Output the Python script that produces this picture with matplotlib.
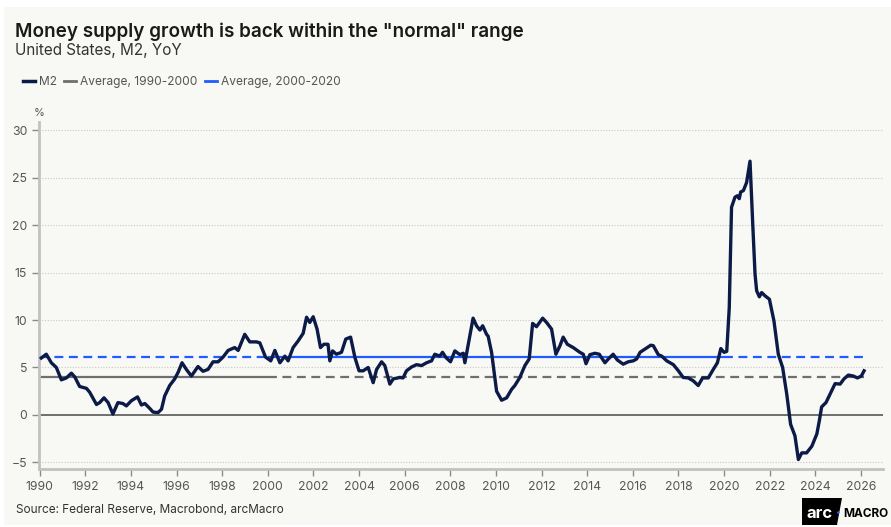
import matplotlib
matplotlib.use("Agg")
import matplotlib.pyplot as plt
from matplotlib.lines import Line2D
from matplotlib.patches import Polygon, Rectangle

plt.rcParams['font.family'] = ['Inter', 'DejaVu Sans']

# M2 YoY growth, % (decimal year, value)
anos = [1990.07, 1990.29, 1990.51, 1990.73, 1990.95, 1991.17, 1991.39, 1991.54, 1991.75, 1992.05,
        1992.19, 1992.49, 1992.63, 1992.82, 1993.0, 1993.21, 1993.43, 1993.65, 1993.8, 1994.02,
        1994.29, 1994.46, 1994.61, 1994.82, 1994.97, 1995.19, 1995.34, 1995.48, 1995.7, 1995.92,
        1996.07, 1996.24, 1996.43, 1996.65, 1996.94, 1997.16, 1997.38, 1997.6, 1997.82, 1998.04,
        1998.26, 1998.55, 1998.7, 1998.99, 1999.21, 1999.5, 1999.65, 1999.9, 2000.13, 2000.31,
        2000.53, 2000.75, 2000.89, 2001.11, 2001.33, 2001.55, 2001.7, 2001.84, 2001.99, 2002.16,
        2002.31, 2002.46, 2002.64, 2002.72, 2002.84, 2003.01, 2003.23, 2003.42, 2003.63, 2003.82,
        2004.0, 2004.18, 2004.4, 2004.62, 2004.77, 2004.99, 2005.13, 2005.35, 2005.5, 2005.79,
        2005.93, 2006.08, 2006.3, 2006.52, 2006.74, 2006.96, 2007.18, 2007.32, 2007.54, 2007.66,
        2007.81, 2008.01, 2008.2, 2008.42, 2008.57, 2008.64, 2008.79, 2009.0, 2009.15, 2009.3,
        2009.42, 2009.59, 2009.66, 2009.81, 2010.03, 2010.25, 2010.47, 2010.69, 2010.83, 2011.05,
        2011.27, 2011.46, 2011.61, 2011.78, 2012.05, 2012.22, 2012.44, 2012.63, 2012.81, 2012.95,
        2013.13, 2013.39, 2013.68, 2013.83, 2013.95, 2014.12, 2014.34, 2014.53, 2014.78, 2014.93,
        2015.14, 2015.32, 2015.58, 2015.8, 2016.02, 2016.17, 2016.32, 2016.54, 2016.79, 2016.9,
        2017.12, 2017.27, 2017.49, 2017.78, 2018.0, 2018.21, 2018.43, 2018.65, 2018.87, 2019.06,
        2019.31, 2019.53, 2019.71, 2019.86, 2020.0, 2020.12, 2020.23, 2020.33, 2020.48, 2020.58,
        2020.67, 2020.73, 2020.85, 2020.99, 2021.14, 2021.26, 2021.36, 2021.43, 2021.55, 2021.65,
        2021.8, 2021.99, 2022.19, 2022.38, 2022.57, 2022.75, 2022.92, 2023.11, 2023.26, 2023.41,
        2023.62, 2023.85, 2024.07, 2024.18, 2024.28, 2024.47, 2024.65, 2024.87, 2025.09, 2025.26,
        2025.45, 2025.67, 2025.85, 2026.02, 2026.14]
m2 = [6.0, 6.4, 5.5, 5.0, 3.7, 3.9, 4.4, 4.0, 3.0, 2.8,
      2.4, 1.1, 1.3, 1.8, 1.3, 0.1, 1.3, 1.2, 0.95, 1.5,
      1.9, 1.05, 1.2, 0.7, 0.3, 0.25, 0.6, 2.0, 3.1, 3.8,
      4.5, 5.5, 4.8, 4.1, 5.1, 4.6, 4.8, 5.6, 5.6, 6.1,
      6.8, 7.1, 6.8, 8.5, 7.7, 7.7, 7.6, 6.1, 5.7, 6.8,
      5.5, 6.2, 5.7, 7.1, 7.8, 8.6, 10.3, 9.75, 10.35, 9.05,
      7.1, 7.45, 7.45, 5.7, 6.75, 6.4, 6.6, 8.0, 8.2, 6.05,
      4.65, 4.65, 5.0, 3.4, 4.8, 5.6, 5.2, 3.25, 3.8, 3.95,
      3.9, 4.65, 5.05, 5.3, 5.2, 5.5, 5.7, 6.4, 6.2, 6.6,
      6.05, 5.6, 6.75, 6.35, 6.5, 5.5, 7.45, 10.2, 9.4, 8.95,
      9.4, 8.5, 8.3, 6.6, 2.5, 1.55, 1.8, 2.7, 3.1, 3.95,
      5.2, 5.9, 9.65, 9.3, 10.2, 9.75, 9.05, 6.4, 7.3, 8.2,
      7.45, 7.1, 6.6, 6.4, 5.4, 6.35, 6.5, 6.4, 5.5, 5.9,
      6.4, 5.8, 5.35, 5.6, 5.7, 5.9, 6.6, 6.95, 7.35, 7.3,
      6.35, 6.2, 5.7, 5.3, 4.65, 3.95, 3.9, 3.6, 3.1, 3.9,
      3.9, 4.8, 5.5, 7.0, 6.6, 6.7, 11.3, 21.9, 22.95, 23.1,
      22.8, 23.5, 23.65, 24.5, 26.75, 20.1, 14.85, 13.1, 12.45, 12.9,
      12.55, 12.2, 9.9, 6.4, 5.0, 2.2, -1.0, -2.2, -4.7, -4.0,
      -4.0, -3.3, -2.0, -0.6, 0.85, 1.3, 2.2, 3.3, 3.25, 3.8,
      4.2, 4.1, 3.9, 4.1, 4.65]

media_90s = 4.0    # average 1990-2000
media_00s = 6.1    # average 2000-2020
anos_ticks = list(range(1990, 2027, 2))
y_ticks = [-5, 0, 5, 10, 15, 20, 25, 30]

fundo = '#f8f8f4'
azul_escuro = '#0b1a46'
azul = '#1f5cff'
cinza = '#6f6f6f'

fig = plt.figure(figsize=(8.91, 5.27), dpi=100, facecolor='white')
fig.patches.append(Rectangle((4 / 891, 0.004), 1, 1 - 0.004 - 7 / 527, transform=fig.transFigure,
                             facecolor=fundo, edgecolor='none', zorder=-10))

ax = fig.add_axes([39 / 891, 1 - 469 / 527, (883 - 39) / 891, (469 - 122) / 527])
ax.set_facecolor(fundo)

# linhas de media
fim = anos[-1]
ax.plot([1990, 2000], [media_90s, media_90s], color=cinza, lw=1.6, solid_capstyle='butt')
ax.plot([2000, fim], [media_90s, media_90s], color=cinza, lw=1.6, dashes=(4, 2.5))
ax.plot([1990, 2000], [media_00s, media_00s], color=azul, lw=1.6, dashes=(4, 2.5))
ax.plot([2000, 2020], [media_00s, media_00s], color=azul, lw=1.6, solid_capstyle='butt')
ax.plot([2020, fim], [media_00s, media_00s], color=azul, lw=1.6, dashes=(4, 2.5))

ax.axhline(0, color='#5a5a5a', lw=1.2, zorder=2)
ax.plot(anos, m2, color=azul_escuro, lw=2.4, zorder=5, solid_joinstyle='round')

ax.set_xlim(1989.97, 2026.97)
ax.set_ylim(-5.7, 30.88)
ax.set_xticks(anos_ticks)
ax.set_yticks(y_ticks)
ax.set_xticklabels([str(a) for a in anos_ticks])
ax.grid(axis='y', color='#c9c9c4', lw=0.8, linestyle=(0, (1, 1.5)))
ax.set_axisbelow(True)

for s in ['top', 'right']:
    ax.spines[s].set_visible(False)
ax.spines['left'].set_color('#c2c2c2')
ax.spines['left'].set_linewidth(2)
ax.spines['bottom'].set_color('#c2c2c2')
ax.spines['bottom'].set_linewidth(2)
ax.tick_params(axis='both', colors='#8a8a8a', labelcolor='#555555', labelsize=8.8, length=5, width=1)
ax.tick_params(axis='x', pad=4)

ax.text(39 / 891, 1 - 113 / 527, '%', transform=fig.transFigure, ha='center', va='center',
        fontsize=8, color='#555555')

fig.text(15 / 891, 1 - 37 / 527, 'Money supply growth is back within the "normal" range',
         fontsize=13.6, fontweight='semibold', color='#1a1a1a', va='baseline')
fig.text(15 / 891, 1 - 55 / 527, 'United States, M2, YoY', fontsize=11, color='#333333', va='baseline')

handles = [Line2D([], [], color=azul_escuro, lw=2.5),
           Line2D([], [], color=cinza, lw=2),
           Line2D([], [], color=azul, lw=2)]
fig.legend(handles, ['M2', 'Average, 1990-2000', 'Average, 2000-2020'], loc='center left',
           bbox_to_anchor=(12 / 891, 1 - 82 / 527), ncol=3, frameon=False, fontsize=8.6,
           handlelength=1.0, handletextpad=0.35, columnspacing=0.6, labelcolor='#555555')

fig.text(16 / 891, 1 - 513 / 527, 'Source: Federal Reserve, Macrobond, arcMacro', fontsize=8.5,
         color='#333333', va='baseline')

# logo
logo = Polygon([(802 / 891, 2 / 527), (837 / 891, 2 / 527), (842 / 891, 29 / 527), (802 / 891, 29 / 527)],
               closed=True, transform=fig.transFigure, facecolor='black', edgecolor='none')
fig.patches.append(logo)
fig.text(820 / 891, 1 - 513 / 527, 'arc', color='white', fontsize=12, fontweight='bold',
         ha='center', va='center')
fig.text(838.5 / 891, 1 - 513 / 527, '\u2022', color=azul, fontsize=6, ha='center', va='center')
fig.text(843 / 891, 1 - 514 / 527, 'MACRO', color='black', fontsize=8.5, fontweight='bold',
         ha='left', va='center')

fig.savefig('out.png', dpi=100, facecolor='white')
